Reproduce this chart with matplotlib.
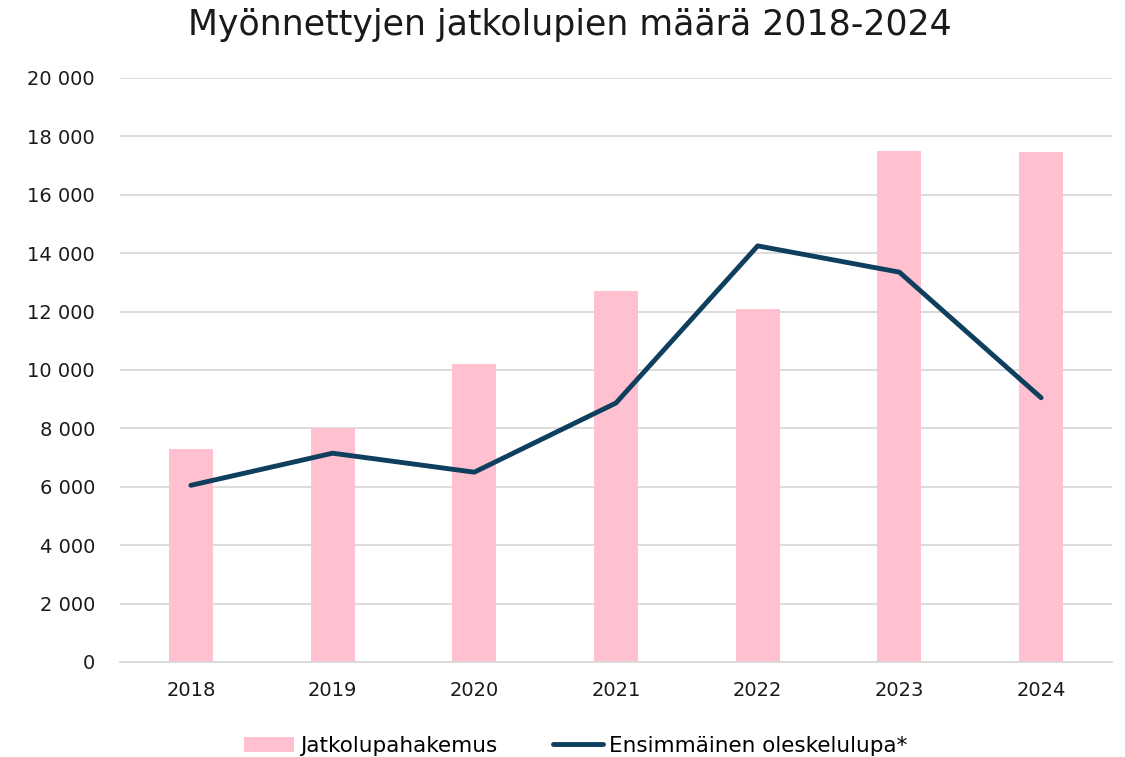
import numpy as np
import matplotlib
matplotlib.use('Agg')
import matplotlib.pyplot as plt
from matplotlib.ticker import FuncFormatter

plt.rcParams['font.family'] = ['DejaVu Sans']

years = ['2018', '2019', '2020', '2021', '2022', '2023', '2024']
jatkolupa = [7300, 8000, 10200, 12700, 12100, 17500, 17450]
ensimmainen = [6050, 7150, 6500, 8870, 14250, 13350, 9050]

pink = '#FFC0CF'
navy = '#0F3F5E'

fig = plt.figure(figsize=(11.25, 7.57), dpi=100)
ax = fig.add_axes([0.1067, 0.1255, 0.8817, 0.7715])

x = np.arange(len(years))
b = ax.bar(x, jatkolupa, width=0.31, color=pink, label='Jatkolupahakemus', zorder=2)
l, = ax.plot(x, ensimmainen, color=navy, lw=3.5, label='Ensimmäinen oleskelulupa*',
             zorder=3, solid_capstyle='round', solid_joinstyle='round')

ax.set_xlim(-0.5, len(years) - 0.5)
ax.set_ylim(0, 20000)
ax.set_yticks(np.arange(0, 20001, 2000))
ax.yaxis.set_major_formatter(FuncFormatter(lambda v, p: f'{int(v):,}'.replace(',', ' ')))
ax.set_xticks(x)
ax.set_xticklabels(years)
ax.grid(axis='y', color='#D9D9D9', lw=1.3, zorder=0)
for s in ['top', 'right', 'left']:
    ax.spines[s].set_visible(False)
ax.spines['bottom'].set_color('#D9D9D9')
ax.spines['bottom'].set_linewidth(1.3)
ax.tick_params(axis='both', length=0, labelsize=14, colors='#1a1a1a')
ax.tick_params(axis='y', pad=18)
ax.tick_params(axis='x', pad=14)

fig.suptitle('Myönnettyjen jatkolupien määrä 2018-2024', x=0.507, y=0.99,
             fontsize=25, color='#1a1a1a', va='top')
fig.legend([b, l], ['Jatkolupahakemus', 'Ensimmäinen oleskelulupa*'],
           loc='lower center', bbox_to_anchor=(0.512, -0.024), ncol=2, frameon=False,
           fontsize=15.5, handlelength=2.3, columnspacing=2.6, handletextpad=0.3)

fig.savefig('out.png', dpi=100)
